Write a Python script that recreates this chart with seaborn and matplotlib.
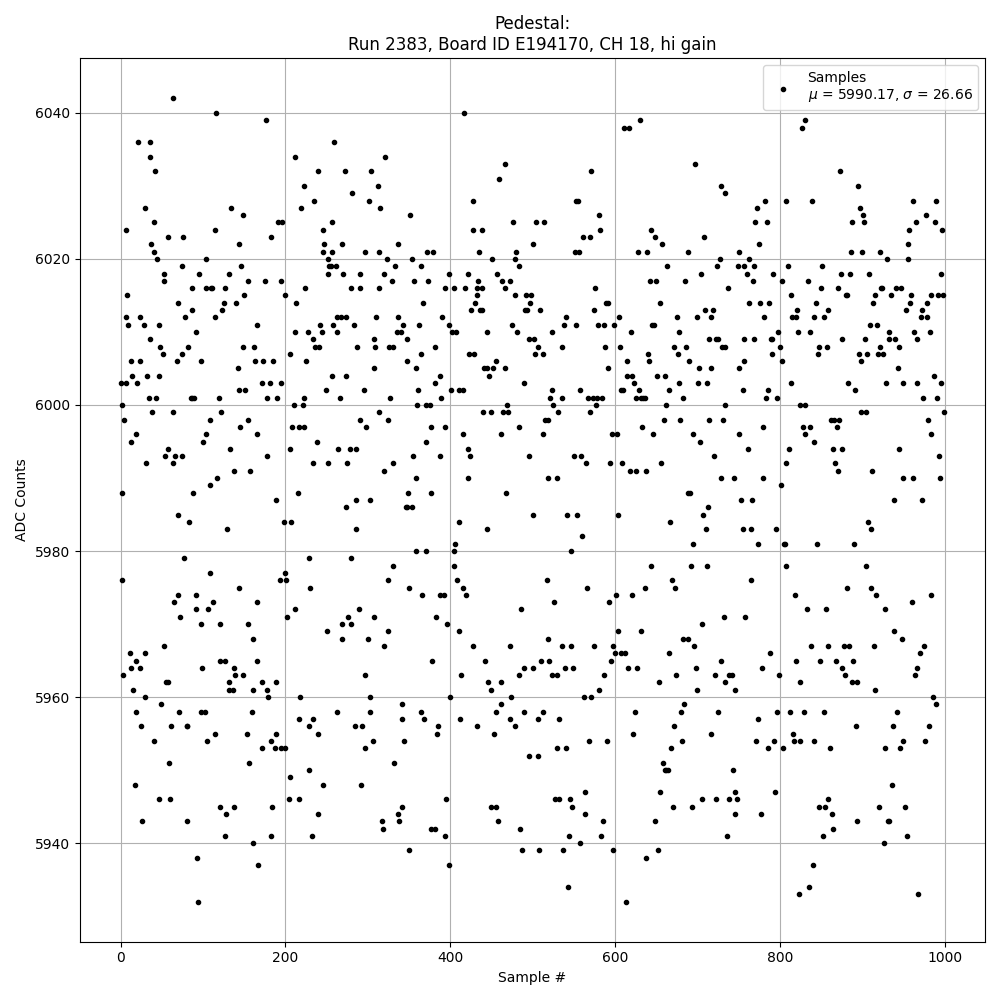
import matplotlib
matplotlib.use("Agg")
import matplotlib.pyplot as plt
import pandas as pd
import seaborn as sns

# ADC levels and the sample numbers that sit on each one
adc_levels = [
    6042, 6040, 6039, 6038, 6036, 6034, 6033, 6032, 6031, 6030, 6029, 6028, 6027, 6026,
    6025, 6024, 6023, 6022, 6021, 6020, 6019, 6018, 6017, 6016, 6015, 6014, 6013, 6012,
    6011, 6010, 6009, 6008, 6007, 6006, 6005, 6004, 6003, 6002, 6001, 6000, 5999, 5998,
    5997, 5996, 5995, 5994, 5993, 5992, 5991, 5990, 5989, 5988, 5987, 5986, 5985, 5984,
    5983, 5982, 5981, 5980, 5979, 5978, 5977, 5976, 5975, 5974, 5973, 5972, 5971, 5970,
    5969, 5968, 5967, 5966, 5965, 5964, 5963, 5962, 5961, 5960, 5959, 5958, 5957, 5956,
    5955, 5954, 5953, 5952, 5951, 5950, 5949, 5948, 5947, 5946, 5945, 5944, 5943, 5942,
    5941, 5940, 5939, 5938, 5937, 5934, 5933, 5932,
]
samples_at_level = [
    [64],
    [116, 417],
    [176, 630, 830],
    [611, 617, 827],
    [21, 36, 259],
    [35, 211, 321],
    [467, 697],
    [42, 240, 272, 304, 571, 873],
    [459],
    [223, 312, 728, 895],
    [281, 733],
    [235, 301, 428, 553, 555, 782, 808, 839, 961, 989],
    [30, 134, 219, 315, 772, 897],
    [148, 351, 581, 901, 977],
    [40, 191, 196, 257, 476, 504, 514, 770, 784, 887, 902, 965, 988],
    [7, 115, 245, 427, 439, 582, 644, 957, 997],
    [58, 76, 182, 561, 570, 649, 708],
    [37, 143, 247, 269, 337, 500, 657, 775, 955],
    [40, 246, 257, 297, 314, 372, 379, 435, 480, 551, 556, 628, 639, 689, 750, 886, 900, 921],
    [44, 104, 252, 323, 354, 451, 479, 727, 762, 930, 955],
    [74, 146, 253, 255, 261, 333, 365, 483, 663, 724, 749, 756, 768, 810, 851],
    [52, 95, 131, 252, 270, 291, 320, 399, 422, 457, 704, 760, 792, 874, 885, 908, 995],
    [53, 155, 175, 195, 329, 356, 373, 434, 463, 473, 642, 650, 685, 767, 802, 834],
    [86, 103, 110, 111, 126, 224, 280, 291, 313, 394, 404, 418, 433, 439, 467, 576, 737, 850,
     870, 923, 924, 941, 947],
    [8, 150, 199, 433, 479, 492, 498, 813, 880, 881, 915, 935, 959, 984, 992, 998],
    [69, 125, 140, 213, 367, 430, 497, 589, 592, 655, 762, 776, 787, 844, 913, 958, 978],
    [87, 123, 425, 436, 438, 491, 493, 509, 575, 709, 719, 821, 858, 953, 972],
    [6, 23, 78, 114, 263, 267, 274, 310, 336, 390, 541, 605, 675, 700, 716, 781, 815, 819, 841,
     853, 971, 978],
    [9, 28, 47, 165, 242, 258, 283, 343, 362, 398, 475, 538, 553, 579, 587, 599, 645, 647, 909, 918],
    [92, 212, 227, 244, 262, 335, 340, 402, 407, 445, 481, 524, 619, 678, 798, 822, 836, 932, 963, 982],
    [35, 234, 308, 348, 496, 502, 714, 722, 725, 757, 768, 789, 790, 875, 903, 932, 940, 966],
    [48, 82, 148, 162, 236, 241, 287, 309, 326, 331, 382, 507, 535, 588, 606, 672, 686, 730,
     733, 800, 847, 857, 921, 944],
    [51, 75, 206, 365, 423, 429, 503, 512, 640, 676, 790, 846, 896, 906, 919, 925],
    [12, 23, 68, 97, 163, 173, 185, 225, 347, 456, 615, 641, 690, 756, 802, 898],
    [142, 307, 359, 441, 444, 452, 466, 592, 702, 716, 751, 943],
    [14, 32, 46, 256, 273, 387, 447, 615, 621, 651, 661, 987],
    [0, 6, 20, 172, 181, 194, 381, 489, 623, 678, 701, 712, 813, 883, 929, 949, 966, 995],
    [144, 151, 249, 295, 361, 401, 411, 415, 523, 558, 607, 610, 629, 666, 755, 785, 891],
    [34, 43, 85, 87, 89, 119, 177, 190, 222, 266, 327, 389, 521, 536, 567, 573, 578, 584, 625,
     632, 634, 636, 683, 783, 796, 974, 991],
    [1, 210, 221, 360, 370, 375, 469, 525, 577, 662, 733, 825, 831],
    [38, 63, 122, 314, 440, 450, 464, 470, 531, 570, 898, 904, 999],
    [4, 108, 154, 290, 325, 515, 519, 659, 679, 714, 731, 862, 866, 872, 980],
    [145, 208, 216, 223, 298, 377, 393, 484, 633, 779, 828, 836, 869],
    [18, 103, 166, 416, 462, 513, 596, 602, 646, 695, 750, 830, 983],
    [12, 100, 238, 371, 703, 842],
    [57, 133, 205, 264, 278, 286, 421, 761, 811, 864, 876, 944],
    [54, 66, 74, 178, 355, 388, 424, 496, 550, 559, 720, 993],
    [31, 63, 233, 251, 275, 331, 565, 594, 608, 656, 807, 867],
    [137, 157, 320, 618, 625, 638, 870, 912],
    [117, 358, 422, 519, 530, 728, 744, 779, 949, 961, 994],
    [109, 801],
    [1, 88, 215, 349, 377, 468, 689, 691],
    [189, 285, 303, 753, 766, 938, 972],
    [274, 346, 348, 354, 713],
    [69, 501, 542, 554, 604, 707],
    [83, 198, 207, 411, 667, 907],
    [129, 286, 445, 710, 755, 765, 795, 911],
    [560],
    [406, 695, 774, 805, 806, 845, 890],
    [359, 370, 405, 546],
    [77, 228, 279],
    [330, 405, 644, 692, 712, 807, 905],
    [108, 200],
    [2, 193, 201, 325, 408, 517, 669, 765],
    [143, 230, 350, 416, 566, 636, 673, 881, 911],
    [70, 91, 366, 387, 392, 419, 601, 621, 818, 917, 983],
    [65, 112, 166, 526, 593, 960],
    [91, 106, 212, 289, 486, 833, 856, 928],
    [72, 202, 276, 308, 383, 732, 758],
    [98, 120, 154, 268, 280, 396, 706],
    [250, 324, 410, 604, 632, 939],
    [160, 269, 300, 518, 683, 688, 948],
    [52, 319, 428, 473, 536, 546, 575, 598, 696, 838, 859, 878, 884, 914, 975],
    [11, 29, 600, 607, 612, 666, 788, 970],
    [19, 120, 126, 165, 378, 442, 510, 520, 595, 729, 819, 849, 868, 889],
    [13, 24, 99, 138, 490, 501, 539, 549, 616, 627, 698, 778, 875, 967],
    [3, 139, 149, 296, 413, 484, 524, 530, 587, 674, 721, 738, 742, 799, 879, 964],
    [55, 57, 132, 171, 188, 446, 461, 653, 734, 824, 888, 894],
    [15, 131, 136, 160, 178, 449, 580, 699, 746, 916],
    [29, 179, 218, 302, 400, 474, 562, 571, 986],
    [49, 341, 462, 684, 989],
    [18, 71, 97, 102, 159, 263, 303, 364, 456, 490, 513, 624, 680, 725, 796, 812, 829, 853, 942],
    [217, 234, 342, 368, 412, 472, 506, 532, 774],
    [25, 61, 80, 81, 229, 284, 293, 385, 432, 478, 672, 892, 937, 981],
    [114, 153, 189, 240, 384, 453, 622, 717, 816],
    [41, 105, 183, 306, 344, 568, 590, 681, 771, 793, 817, 824, 841, 950, 976],
    [172, 187, 195, 200, 297, 529, 541, 668, 785, 804, 861, 928, 946],
    [495, 507],
    [59, 156, 332, 658],
    [229, 660, 662, 664, 743],
    [206],
    [17, 246, 292, 936],
    [564, 655, 745, 794],
    [46, 60, 204, 217, 395, 527, 532, 545, 706, 722, 738, 748, 859],
    [121, 137, 184, 342, 450, 455, 548, 670, 693, 847, 855, 920, 952],
    [128, 239, 337, 564, 745, 777, 863],
    [26, 80, 317, 338, 458, 585, 649, 893, 931, 933],
    [318, 376, 382, 485, 864],
    [127, 183, 232, 394, 544, 583, 736, 852, 954],
    [161, 557, 926],
    [350, 487, 508, 537, 598, 652],
    [93, 638],
    [167, 399, 840],
    [543, 835],
    [823, 968],
    [94, 613],
]

df = pd.DataFrame({"ADC": adc_levels, "Sample": samples_at_level}).explode("Sample")
df["Sample"] = df["Sample"].astype(int)

fig, ax = plt.subplots(figsize=(10, 10), dpi=100)
sns.scatterplot(
    data=df,
    x="Sample",
    y="ADC",
    color="black",
    marker=".",
    s=36,
    linewidth=1,
    edgecolor="black",
    zorder=3,
    label="Samples\n$\\mu$ = 5990.17, $\\sigma$ = 26.66",
    ax=ax,
)
ax.set_title("Pedestal:\nRun 2383, Board ID E194170, CH 18, hi gain")
ax.set_xlabel("Sample #")
ax.set_ylabel("ADC Counts")
ax.grid(True)
ax.legend(loc="upper right")

plt.tight_layout()
plt.savefig("out.png", dpi=100)
